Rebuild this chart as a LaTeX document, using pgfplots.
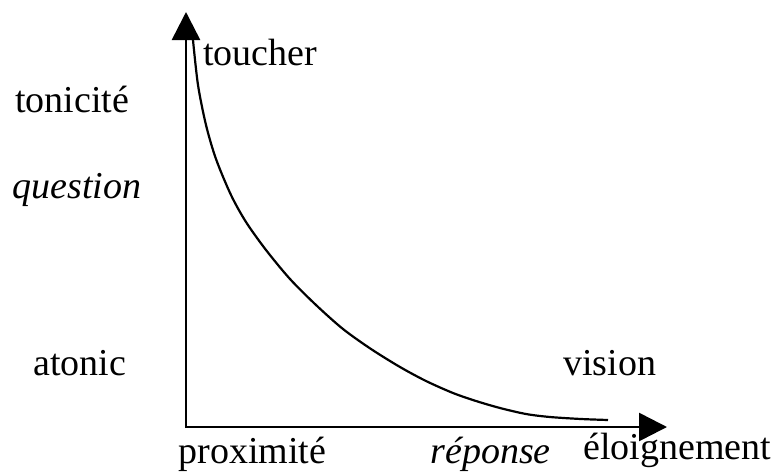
\documentclass[border=0pt]{standalone}
\usepackage{fontspec}
\setmainfont{Liberation Serif}
\usepackage{pgfplots}
\pgfplotsset{compat=1.18}
\usetikzlibrary{arrows.meta}
\begin{document}
\begin{tikzpicture}
\begin{axis}[
  x=0.5pt, y=0.5pt,
  xmin=0, xmax=776, ymin=0, ymax=473,
  axis lines=none, clip=false,
  anchor=origin, at={(0,0)},
]
\path (axis cs:0,0) rectangle (axis cs:776,473);
% axes
\addplot[black, line width=1.3pt, -{Triangle[length=14pt,width=14pt]}] coordinates {(186,45) (186,461)};
\addplot[black, line width=1.3pt, -{Triangle[length=14pt,width=14pt]}] coordinates {(185,46) (667,46)};
% curve
\addplot[black, line width=1.1pt, smooth, tension=0.5] coordinates {
(193,433) (198,388) (206,348) (216,314) (231,278) (246,251) (266,223)
(290,194) (316,168) (343,144) (371,124) (400,106) (426,92) (453,80)
(476,72) (500,65) (526,59) (550,56) (581,54) (608,53)};
% labels
\node[anchor=base west, font=\fontsize{19}{22}\selectfont, inner sep=0pt] at (axis cs:203,408) {toucher};
\node[anchor=base west, font=\fontsize{19}{22}\selectfont, inner sep=0pt] at (axis cs:15,361) {tonicité};
\node[anchor=base west, font=\fontsize{19}{22}\selectfont\itshape, inner sep=0pt] at (axis cs:12,275) {question};
\node[anchor=base west, font=\fontsize{19}{22}\selectfont, inner sep=0pt] at (axis cs:33,98) {atonic};
\node[anchor=base west, font=\fontsize{19}{22}\selectfont, inner sep=0pt] at (axis cs:563,98) {vision};
\node[anchor=base west, font=\fontsize{19}{22}\selectfont, inner sep=0pt] at (axis cs:178,10) {proximité};
\node[anchor=base west, font=\fontsize{19}{22}\selectfont\itshape, inner sep=0pt] at (axis cs:430,10) {réponse};
\node[anchor=base west, font=\fontsize{19}{22}\selectfont, inner sep=0pt] at (axis cs:583,14) {éloignement};
\end{axis}
\end{tikzpicture}
\end{document}
